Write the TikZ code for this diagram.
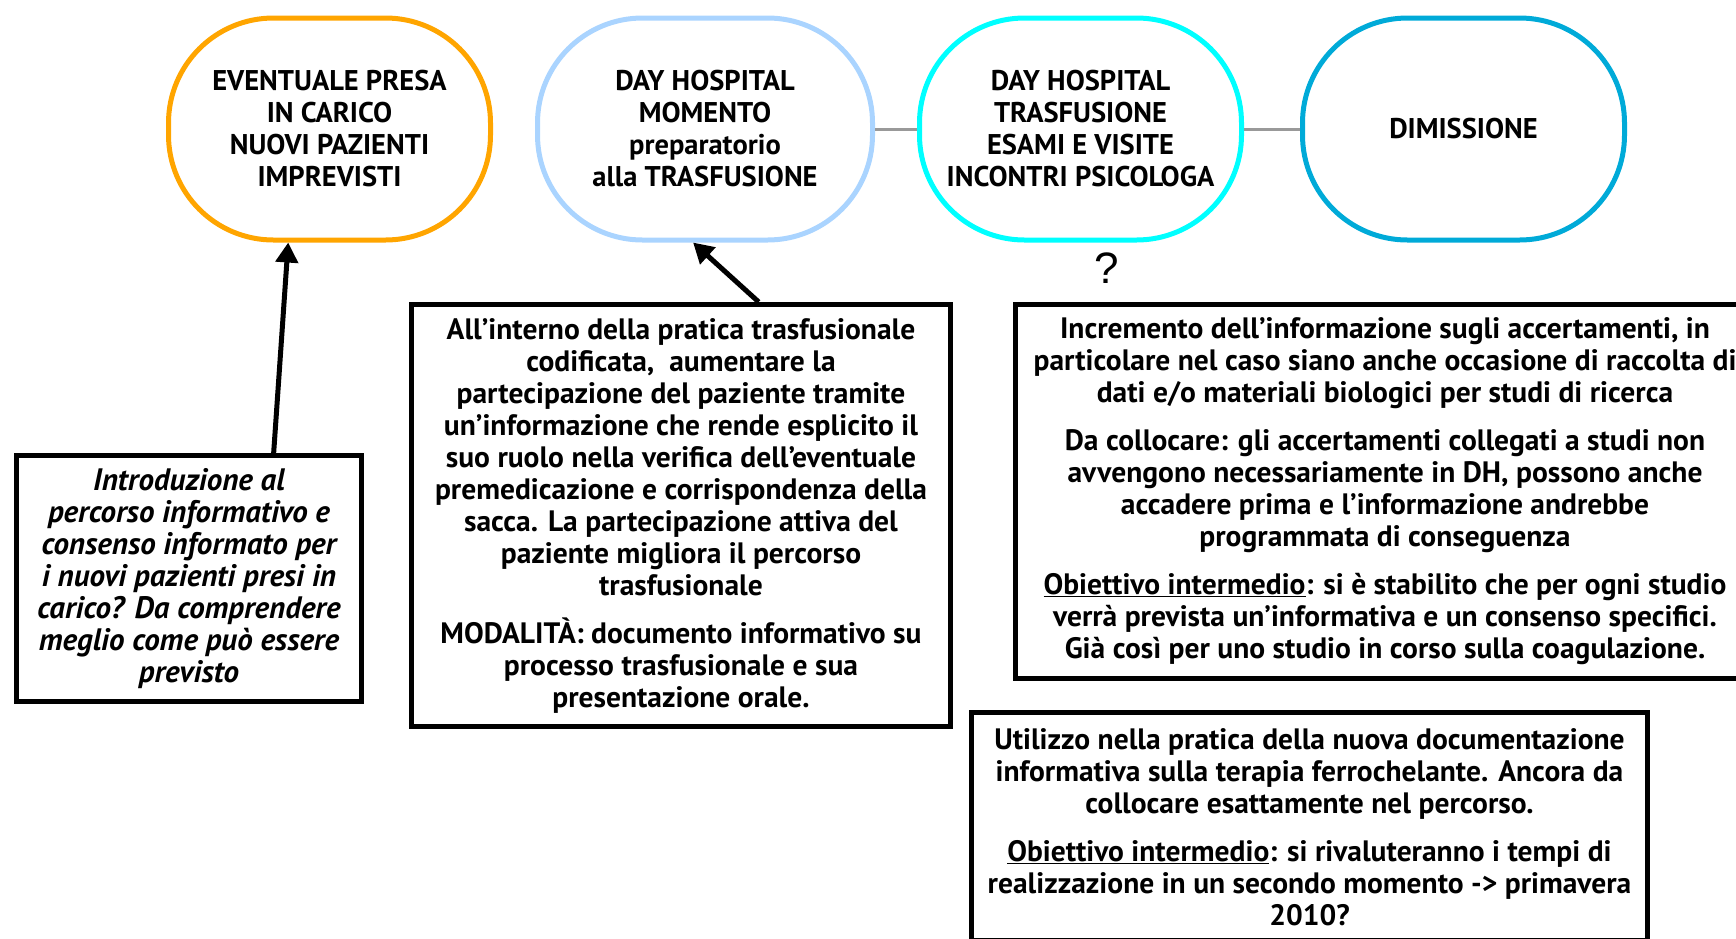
\documentclass[tikz,border=0pt]{standalone}
\usepackage{fontspec}
\setmainfont{PT Sans}
\newfontfamily\qfont{Liberation Sans}
\usetikzlibrary{positioning,arrows.meta}

\definecolor{arancio}{HTML}{FFA500}
\definecolor{celeste}{HTML}{AAD4FF}
\definecolor{ciano}{HTML}{00FFFF}
\definecolor{blu}{HTML}{00AAD8}

\tikzset{
  testo/.style={font=\bfseries\fontsize{28.5}{32}\selectfont, align=center},
  tappa/.style={testo, draw, line width=5pt, rounded corners=105pt,
    minimum width=322pt, minimum height=222pt, inner sep=0pt},
  nota/.style={testo, draw, line width=5pt, inner sep=0pt,
    font=\bfseries\fontsize{29.5}{32}\selectfont},
  freccia/.style={line width=5pt, -{Triangle[length=20pt,width=22pt]}},
  legame/.style={line width=3pt, draw=black!40},
}

\begin{document}
\begin{tikzpicture}[x=1pt,y=-1pt]
   \clip (0,0) rectangle (1736,938);
   % tappe del percorso
   \node[tappa,draw=arancio] (presa) at (329.5,129)
     {EVENTUALE PRESA\\IN CARICO\\NUOVI PAZIENTI\\IMPREVISTI};
   \node[tappa,draw=celeste,minimum width=335pt] (prep) [right=42pt of presa]
     {DAY HOSPITAL\\MOMENTO\\preparatorio\\alla TRASFUSIONE};
   \node[tappa,draw=ciano] (trasf) [right=42pt of prep]
     {DAY HOSPITAL\\TRASFUSIONE\\ESAMI E VISITE\\INCONTRI PSICOLOGA};
   \node[tappa,draw=blu] (dimis) [right=56pt of trasf] {DIMISSIONE};
   \path[legame]
    (prep) -- (trasf)
    (trasf) -- (dimis);
   \node[font=\qfont\fontsize{44}{44}\selectfont] (dubbio) at (1107,268) {?};

   % note
   \node[nota,minimum width=345pt,minimum height=246pt,
         font=\bfseries\itshape\fontsize{31}{32}\selectfont] (intro) at (189,578.5)
     {Introduzione al\\ percorso informativo e\\ consenso informato per\\
      i nuovi pazienti presi in\\ carico? Da comprendere\\ meglio come può essere\\ previsto};
   \node[nota,minimum width=539pt,minimum height=422pt] (pratica) at (681,515.5)
     {All’interno della pratica trasfusionale\\ codificata,\ \ aumentare la\\
      partecipazione del paziente tramite\\ un’informazione che rende esplicito il\\
      suo ruolo nella verifica dell’eventuale\\ premedicazione e corrispondenza della\\
      sacca. La partecipazione attiva del\\ paziente migliora il percorso\\ trasfusionale\\[16pt]
      MODALITÀ: documento informativo su\\ processo trasfusionale e sua\\ presentazione orale.};
   \node[nota,minimum width=739pt,minimum height=374pt] (accert) at (1385,491.5)
     {Incremento dell’informazione sugli accertamenti, in\\
      particolare nel caso siano anche occasione di raccolta di\\
      dati e/o materiali biologici per studi di ricerca\\[16pt]
      Da collocare: gli accertamenti collegati a studi non\\
      avvengono necessariamente in DH, possono anche\\
      accadere prima e l’informazione andrebbe\\ programmata di conseguenza\\[16pt]
      \underline{Obiettivo intermedio}: si è stabilito che per ogni studio\\
      verrà prevista un’informativa e un consenso specifici.\\
      Già così per uno studio in corso sulla coagulazione.};
   \node[nota,minimum width=676pt,minimum height=228pt] (ferro) at (1309.5,826.8)
     {Utilizzo nella pratica della nuova documentazione\\
      informativa sulla terapia ferrochelante. Ancora da\\
      collocare esattamente nel percorso.\\[16pt]
      \underline{Obiettivo intermedio}: si rivaluteranno i tempi di\\
      realizzazione in un secondo momento -> primavera\\ 2010?};

   \draw[freccia] (intro.56) -- (presa.-110);
   \draw[freccia] (pratica.70) -- (prep.-96);
\end{tikzpicture}
\end{document}
